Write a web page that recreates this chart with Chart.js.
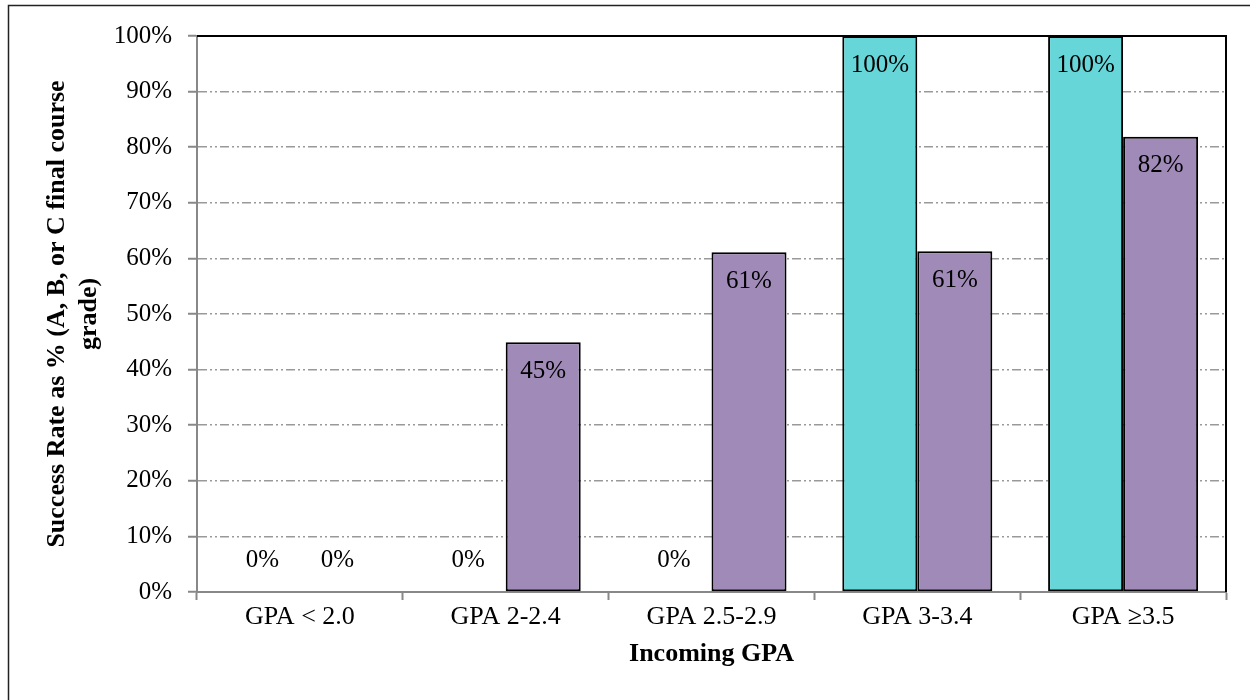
<!DOCTYPE html>
<html>
<head>
<meta charset="utf-8">
<script src="https://cdn.jsdelivr.net/npm/chart.js@4"></script>
<style>
  html, body { margin: 0; padding: 0; background: #fff; }
  #wrap { width: 1250px; height: 700px; position: relative; }
</style>
</head>
<body>
<div id="wrap"><canvas id="myChart" width="1250" height="700"></canvas></div>
<script>
const categories = ["GPA < 2.0", "GPA 2-2.4", "GPA 2.5-2.9", "GPA 3-3.4", "GPA \u22653.5"];
const seriesA = [0, 0, 0, 100, 100];
const seriesB = [0, 44.9, 61.1, 61.3, 81.9];
const yTicks = [0, 10, 20, 30, 40, 50, 60, 70, 80, 90, 100];

const serif = '"Liberation Serif", "Times New Roman", serif';
Chart.defaults.font.family = serif;
Chart.defaults.color = "#000";

// value labels inside the top of each bar
const barLabels = {
  id: "barLabels",
  afterDatasetsDraw(chart) {
    const ctx = chart.ctx;
    ctx.save();
    ctx.font = "25px " + serif;
    ctx.fillStyle = "#000";
    ctx.textAlign = "center";
    ctx.textBaseline = "middle";
    chart.data.datasets.forEach((ds, i) => {
      chart.getDatasetMeta(i).data.forEach((bar, j) => {
        const h = bar.base - bar.y;
        const y = h > 60 ? bar.y + 29 : bar.base - 32;
        ctx.fillText(Math.round(ds.data[j]) + "%", bar.x, y);
      });
    });
    ctx.restore();
  },
};

// black top/right edge of the plot and the outer frame
const frame = {
  id: "frame",
  beforeDatasetsDraw(chart) {
    const { ctx, chartArea: a } = chart;
    ctx.save();
    ctx.strokeStyle = "#000";
    ctx.lineWidth = 2;
    ctx.beginPath();
    ctx.moveTo(a.left, a.top);
    ctx.lineTo(a.right, a.top);
    ctx.lineTo(a.right, a.bottom);
    ctx.stroke();
    ctx.restore();
  },
  afterDraw(chart) {
    const ctx = chart.ctx;
    ctx.save();
    ctx.strokeStyle = "#222";
    ctx.lineWidth = 1.5;
    ctx.beginPath();
    ctx.moveTo(8.5, 720);
    ctx.lineTo(8.5, 5.5);
    ctx.lineTo(1270, 5.5);
    ctx.stroke();
    ctx.restore();
  },
};

const ctx = document.getElementById("myChart");

new Chart(ctx, {
  type: "bar",
  data: {
    labels: categories,
    datasets: [
      {
        label: "Series 1",
        data: seriesA,
        backgroundColor: "#66D6D8",
        borderColor: "#000",
        borderWidth: (c) => (c.raw > 0 ? 2 : 0),
        borderSkipped: false,
      },
      {
        label: "Series 2",
        data: seriesB,
        backgroundColor: "#A08AB8",
        borderColor: "#000",
        borderWidth: (c) => (c.raw > 0 ? 2 : 0),
        borderSkipped: false,
      },
    ],
  },
  options: {
    responsive: false,
    animation: false,
    categoryPercentage: 0.729,
    barPercentage: 1,
    layout: { padding: { left: 0, top: 36, right: 24, bottom: 0 } },
    plugins: {
      legend: { display: false },
      tooltip: { enabled: false },
    },
    scales: {
      x: {
        grid: {
          offset: true,
          drawOnChartArea: false,
          drawTicks: true,
          tickLength: 8,
          tickColor: "#888",
          tickWidth: 2,
        },
        border: { color: "#888", width: 2 },
        ticks: { font: { size: 26 }, padding: 2, maxRotation: 0 },
        title: {
          display: true,
          text: "Incoming GPA",
          font: { size: 26, weight: "bold" },
          padding: { top: 0, bottom: 30 },
        },
        afterFit(scale) {
          scale.height = 108;
        },
      },
      y: {
        min: 0,
        max: 100,
        afterBuildTicks(scale) {
          scale.ticks = yTicks.map((v) => ({ value: v }));
        },
        grid: {
          color: "#999",
          lineWidth: 1.5,
          tickLength: 9,
          tickColor: "#888",
          tickWidth: 2,
          tickBorderDash: [],
        },
        border: { color: "#888", width: 2, dash: [9, 3, 2, 3, 2, 3] },
        ticks: {
          font: { size: 25 },
          padding: 16,
          callback: (v) => v + "%",
        },
        title: {
          display: true,
          text: ["Success Rate as % (A, B, or C final course", "grade)"],
          font: { size: 26, weight: "bold", lineHeight: 1.2 },
          padding: { top: 42, bottom: 0 },
        },
        afterFit(scale) {
          scale.width = 197;
        },
      },
    },
  },
  plugins: [barLabels, frame],
});
</script>
</body>
</html>
